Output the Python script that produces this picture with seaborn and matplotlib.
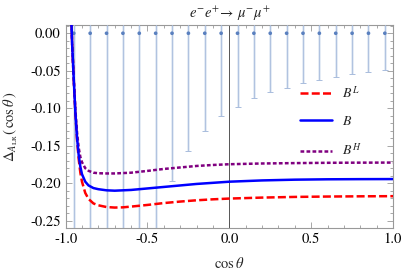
import numpy as np
import matplotlib
matplotlib.use('Agg')
import matplotlib.pyplot as plt
import seaborn as sns

# curves
cos_theta = [-0.97, -0.96, -0.95, -0.94, -0.93, -0.92, -0.91, -0.90, -0.88, -0.86,
             -0.83, -0.80, -0.75, -0.70, -0.65, -0.60, -0.50, -0.40, -0.30, -0.20,
             -0.10, 0.0, 0.2, 0.4, 0.6, 0.8, 1.0]
delta_BL = [0.05, -0.015, -0.064, -0.108, -0.143, -0.168, -0.186, -0.198, -0.213, -0.221,
            -0.227, -0.2295, -0.2318, -0.2325, -0.2322, -0.2312, -0.229, -0.2265, -0.2245, -0.2228,
            -0.2215, -0.2205, -0.2192, -0.2183, -0.2178, -0.2175, -0.2173]
delta_B = [0.05, -0.015, -0.063, -0.107, -0.140, -0.163, -0.178, -0.188, -0.198, -0.203,
           -0.2065, -0.208, -0.2095, -0.21, -0.2095, -0.209, -0.207, -0.205, -0.203, -0.201,
           -0.1995, -0.198, -0.1963, -0.1953, -0.1948, -0.1946, -0.1945]
delta_BH = [0.05, -0.015, -0.062, -0.103, -0.133, -0.153, -0.165, -0.172, -0.180, -0.1835,
            -0.186, -0.1867, -0.187, -0.187, -0.1865, -0.186, -0.1836, -0.181, -0.179, -0.177,
            -0.1757, -0.1747, -0.1737, -0.1732, -0.1728, -0.1726, -0.1725]

# error bars (centred at zero)
err_x = [-0.95, -0.85, -0.75, -0.65, -0.55, -0.45, -0.35, -0.25, -0.15, -0.05,
         0.05, 0.15, 0.25, 0.35, 0.45, 0.55, 0.65, 0.75, 0.85, 0.95]
err_y = [0.0] * 20
err_size = [2.5, 1.1, 0.7, 0.5, 0.37, 0.28, 0.197, 0.157, 0.13, 0.111,
            0.098, 0.087, 0.079, 0.0725, 0.066, 0.062, 0.058, 0.054, 0.052, 0.049]

x_ticks = [-1.0, -0.5, 0.0, 0.5, 1.0]
y_ticks = [0.0, -0.05, -0.10, -0.15, -0.20, -0.25]

sns.set_theme(style='ticks')
plt.rcParams['font.family'] = ['STIXGeneral', 'DejaVu Serif']
plt.rcParams['mathtext.fontset'] = 'stix'
plt.rcParams['axes.unicode_minus'] = True

fig, ax = plt.subplots(figsize=(4.19, 2.73), dpi=100)
fig.subplots_adjust(left=0.1566, right=0.938, bottom=0.165, top=0.9084)

ax.axvline(0, color='#555555', lw=0.7, zorder=1)

ax.errorbar(err_x, err_y, yerr=err_size, fmt='none', ecolor='#dde6f3',
            elinewidth=1.8, capsize=0, zorder=2)
ax.errorbar(err_x, err_y, yerr=err_size, fmt='none', ecolor='#a9bddd',
            elinewidth=0.6, capsize=2.2, capthick=0.7, zorder=3)
sns.scatterplot(x=err_x, y=err_y, color='#5a80bf', s=7, edgecolor='none', ax=ax, zorder=4)

sns.lineplot(x=cos_theta, y=delta_BL, color='#ff0000', lw=1.8, ax=ax,
             label=r'$B^{L}$', zorder=5).lines[-1].set_dashes([3.2, 1.3])
sns.lineplot(x=cos_theta, y=delta_B, color='#0000ff', lw=1.8, ax=ax, label=r'$B$', zorder=6)
ln = sns.lineplot(x=cos_theta, y=delta_BH, color='#800080', lw=1.8, ax=ax,
                  label=r'$B^{H}$', zorder=5).lines[-1]
ln.set_dashes([1.5, 0.9])
ln.set_dash_capstyle('butt')

ax.set_xlim(-1.0, 1.0)
ax.set_ylim(-0.2597, 0.011)
ax.set_xticks(x_ticks)
ax.set_xticklabels(['%.1f' % v for v in x_ticks])
ax.set_yticks(y_ticks)
ax.set_yticklabels(['%.2f' % v for v in y_ticks])
ax.set_xticks(np.arange(-1.0, 1.01, 0.1), minor=True)
ax.set_yticks(np.arange(-0.25, 0.011, 0.01), minor=True)
ax.tick_params(which='both', direction='in', top=True, right=True, color='#999999',
               labelsize=10.5, labelcolor='black', width=0.6)
ax.tick_params(which='major', length=4)
ax.tick_params(which='minor', length=2)
for s in ax.spines.values():
    s.set_color('#999999')
    s.set_linewidth(0.8)

ax.set_title(r'$e^{-}e^{+}\!\rightarrow\,\mu^{-}\mu^{+}$', fontsize=10.5, pad=5)
ax.set_xlabel(r'$\cos\theta$', fontsize=10.5)
ax.set_ylabel(r'$\Delta_{A_{\rm LR}}(\,\cos\theta\,)$', fontsize=10.5)
ax.xaxis.set_label_coords(0.5, -0.14)
ax.yaxis.set_label_coords(-0.14, 0.5)

leg = ax.legend(loc='upper left', bbox_to_anchor=(0.7, 0.735), frameon=False,
                fontsize=10, handlelength=2.3, labelspacing=1.0, handletextpad=0.7,
                borderaxespad=0.0)

fig.savefig('out.png', dpi=100)
